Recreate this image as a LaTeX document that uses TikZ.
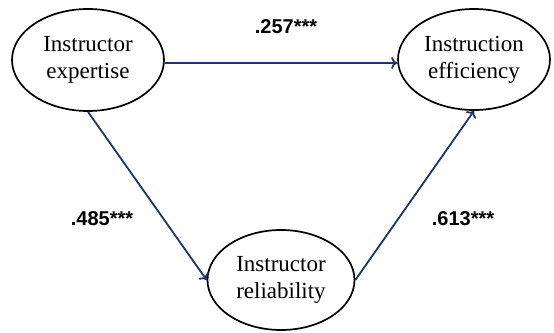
\documentclass[tikz,border=0pt]{standalone}
\usepackage{fontspec}
\setmainfont{Liberation Serif}
\newfontfamily\labelfont{Liberation Sans}
\usetikzlibrary{shapes.geometric,arrows.meta}
\definecolor{pathblue}{RGB}{31,52,104}
\tikzset{
  construct/.style={ellipse, draw=black, line width=1.7pt, inner sep=0pt, align=center,
    font=\fontsize{23}{27}\selectfont},
  path arrow/.style={draw=pathblue, line width=1.8pt, -{To[length=6pt,width=12pt,line width=1.8pt]}},
  coef/.style={font=\labelfont\bfseries\fontsize{20}{22}\selectfont, text=black}
}
\begin{document}
\begin{tikzpicture}[x=1pt,y=-1pt]
\useasboundingbox (0,0) rectangle (554,332);
\node[construct, minimum width=152pt, minimum height=102pt] (exp) at (88,60) {Instructor\\expertise};
\node[construct, minimum width=152pt, minimum height=101pt] (eff) at (474,59.5) {Instruction\\efficiency};
\node[construct, minimum width=147pt, minimum height=100pt] (rel) at (281,280) {Instructor\\reliability};
\draw[path arrow] (exp.east |- 0,63) -- (eff.west |- 0,63);
\draw[path arrow] (exp.south) -- (rel.west);
\draw[path arrow] (rel.east) -- (eff.south);
\node[coef] (c1) at (286,27) {.257***};
\node[coef] (c2) at (102,219) {.485***};
\node[coef] (c3) at (463,219) {.613***};
\end{tikzpicture}
\end{document}
